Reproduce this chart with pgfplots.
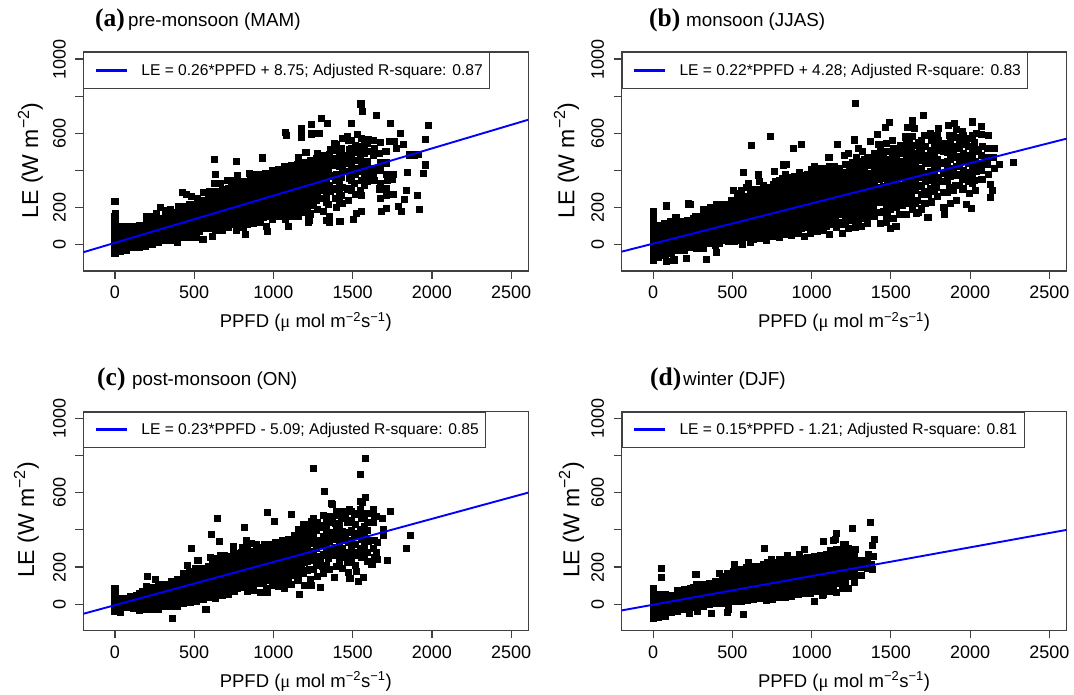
\documentclass[border=0pt]{standalone}
\usepackage{fontspec}
\setmainfont{Liberation Sans}
\newfontfamily\tnr{Liberation Serif}
\usepackage{pgfplots}
\pgfplotsset{compat=1.18}
\definecolor{axc}{HTML}{404040}
\pgfplotsset{
  panel/.style={
    scale only axis, width=445pt, height=219pt,
    clip mode=individual,
    xmin=-200, xmax=2608, ymin=-142, ymax=1038,
    xtick={0,500,1000,1500,2000,2500},
    ytick={0,200,400,600,800,1000},
    yticklabels={0,200,,600,,1000},
    tick align=outside, major tick length=8pt,
    xtick pos=bottom, ytick pos=left,
    axis line style={axc,line width=1.1pt},
    every tick/.style={axc,line width=1.1pt},
    /pgf/number format/assume math mode=true,
    /pgf/number format/1000 sep={},
    tick label style={font=\fontsize{18}{18}\selectfont},
    xticklabel style={yshift=-3.5pt},
    yticklabel style={rotate=90,anchor=south,yshift=6pt},
    xlabel={PPFD ({\tnr μ} mol m\textsuperscript{−2}s\textsuperscript{−1})},
    ylabel={LE (W m\textsuperscript{−2})},
    every axis x label/.style={at={(axis description cs:0.5,0)},anchor=center,yshift=-51pt,font=\fontsize{18.5}{18.5}\selectfont},
    legend style={at={(axis description cs:0,1)},anchor=north west,draw=axc,line width=1.1pt,fill=white,
      font=\fontsize{15.6}{15.6}\selectfont,inner xsep=10.5pt,inner ysep=9.5pt,
      /tikz/every even column/.append style={column sep=0pt}},
    legend cell align=left,
    legend image code/.code={\draw[#1,line width=3pt] (0pt,0pt) -- (31pt,0pt);},
  },
  ylab/.style={every axis y label/.style={at={(axis description cs:0,0.505)},anchor=center,rotate=90,yshift=#1pt,font=\fontsize{23}{23}\selectfont}},
  pts/.style={only marks,mark=square*,mark size=3.05pt,black,mark options={line width=0pt},forget plot},
  fit/.style={blue,line width=1.9pt},
}
\begin{document}
\begin{tikzpicture}[x=1pt,y=1pt]
\path[use as bounding box] (0,0) rectangle (1074,695);

\begin{axis}[panel,ylab=53,at={(83.3pt,424pt)},anchor=south west]
\addplot[pts] coordinates {
(0,232)(630,461)(635,379)(628,330)(767,449)(933,467)(1552,758)(1563,716)(1652,695)(1739,653)(1978,641)(1493,653)(1304,682)(1339,652)(1241,648)(1178,623)(1178,580)(1076,603)(1085,589)(1241,596)(1287,598)(1800,600)(1957,567)(1822,540)(1961,429)(1948,381)(1846,391)(1839,293)(1909,264)(1828,241)(1787,205)(1809,178)(1920,189)(1857,483)(1889,483)(1917,488)(1733,555)(1763,558)(1774,519)(1683,178)(1713,197)(1557,180)(1522,169)(1507,136)(1420,124)(1352,118)(1335,129)(1224,133)(1220,118)(1096,99)(965,70)(822,54)(767,79)(811,92)(613,43)
(0,-50)(0,-25)(0,0)(0,25)(0,50)(0,75)(0,100)(0,125)(0,150)(3,165)
(35,-35)(30,-5)(38,25)(32,55)(36,85)(30,100)
(75,-30)(70,0)(78,30)(72,60)(76,95)
(115,-15)(110,15)(118,45)(112,75)(115,100)
(155,-15)(150,15)(158,45)(152,75)(156,105)
(195,-10)(190,25)(198,55)(192,85)(196,120)(200,150)
(235,0)(230,30)(238,60)(232,95)(236,125)(230,150)
(275,10)(270,40)(278,70)(272,105)(276,135)(285,200)(262,165)
(315,20)(310,50)(318,85)(312,115)(316,150)(320,185)
(355,25)(350,60)(358,90)(352,125)(356,155)(350,190)
(395,10)(390,45)(398,75)(392,110)(396,140)(390,175)(398,205)
(435,40)(430,75)(438,105)(432,140)(436,170)(430,205)(425,280)(450,270)
(475,40)(470,80)(478,110)(472,145)(476,180)(470,215)(480,260)
(515,40)(510,75)(518,110)(512,145)(516,180)(510,215)(518,250)
(555,30)(550,85)(558,120)(552,155)(556,190)(550,225)(558,280)(540,240)
(595,85)(590,115)(598,150)(592,185)(596,220)(590,255)(598,285)
(635,75)(630,110)(638,145)(632,180)(636,215)(630,250)(638,285)
(675,75)(670,120)(678,155)(672,190)(676,225)(670,260)(678,295)(665,330)
(715,90)(710,125)(718,160)(712,195)(716,230)(710,265)(718,300)(712,345)
(755,110)(750,140)(758,175)(752,210)(756,245)(750,280)(758,315)(745,345)
(795,110)(790,145)(798,180)(792,215)(796,250)(790,285)(798,320)(775,370)
(835,110)(830,150)(838,190)(832,225)(836,260)(830,295)(838,330)(850,385)
(875,115)(870,155)(878,190)(872,230)(876,265)(870,300)(878,335)(872,370)(895,380)
(915,120)(910,160)(918,200)(912,235)(916,270)(910,305)(918,340)(912,380)
(955,100)(950,165)(958,205)(952,240)(956,275)(950,310)(958,345)(952,385)
(995,135)(990,170)(998,210)(992,245)(996,280)(990,320)(998,355)(992,400)
(1035,150)(1030,185)(1038,225)(1032,260)(1036,295)(1030,330)(1038,365)(1032,405)
(1075,135)(1070,190)(1078,230)(1072,265)(1076,300)(1070,335)(1078,370)(1072,420)
(1115,150)(1110,195)(1118,235)(1112,275)(1116,310)(1110,345)(1118,385)(1112,425)
(1155,150)(1150,205)(1158,245)(1152,285)(1156,320)(1150,360)(1158,395)(1152,430)(1158,470)
(1195,175)(1190,215)(1198,255)(1192,295)(1196,330)(1190,370)(1198,405)(1192,440)(1205,495)
(1235,165)(1230,225)(1238,265)(1232,305)(1236,345)(1230,380)(1238,420)(1232,455)
(1275,190)(1270,240)(1278,275)(1272,315)(1276,350)(1270,390)(1278,425)(1272,465)(1278,490)
(1315,180)(1310,250)(1318,290)(1312,330)(1316,365)(1310,400)(1318,440)(1312,480)
(1355,150)(1350,215)(1358,285)(1352,320)(1356,370)(1350,410)(1358,450)(1352,485)(1358,510)(1385,545)
(1395,200)(1390,250)(1398,300)(1392,345)(1396,380)(1390,425)(1398,465)(1392,510)(1398,540)
(1435,220)(1430,265)(1438,310)(1432,360)(1436,400)(1430,440)(1438,480)(1432,520)(1438,570)
(1475,240)(1470,300)(1478,355)(1472,395)(1476,435)(1470,475)(1478,515)(1472,560)(1465,585)
(1515,270)(1510,330)(1518,380)(1512,410)(1516,455)(1510,495)(1518,535)(1530,595)
(1555,265)(1550,290)(1558,345)(1552,395)(1556,430)(1550,470)(1558,510)(1552,530)(1558,570)
(1595,340)(1590,375)(1598,410)(1592,445)(1596,500)(1590,545)(1598,565)
(1635,345)(1630,375)(1638,410)(1632,480)(1636,520)(1630,560)
(1675,250)(1670,300)(1678,330)(1672,400)(1676,440)(1670,490)(1678,550)
(1715,265)(1710,300)(1718,345)(1712,380)(1716,440)(1710,500)
(1755,270)(1750,350)(1758,380)
(55,-10)(55,25)(55,60)(95,0)(95,35)(95,70)(135,10)(135,45)(135,80)(175,20)(175,55)(175,90)
(215,15)(215,50)(215,85)(215,115)(255,25)(255,60)(255,95)(255,125)(295,35)(295,70)(295,105)(295,140)
(335,40)(335,75)(335,110)(335,145)(375,45)(375,80)(375,115)(375,150)(415,60)(415,95)(415,130)(415,165)
(455,60)(455,95)(455,130)(455,165)(455,200)(495,65)(495,100)(495,135)(495,170)(495,205)
(535,70)(535,105)(535,140)(535,175)(535,210)(575,100)(575,135)(575,170)(575,205)(575,240)
(615,100)(615,130)(615,165)(615,200)(615,235)(615,265)(655,100)(655,135)(655,170)(655,205)(655,240)(655,275)
(695,105)(695,140)(695,175)(695,210)(695,245)(695,280)(735,110)(735,145)(735,180)(735,215)(735,250)(735,285)(735,320)
(775,125)(775,160)(775,195)(775,230)(775,265)(775,300)(775,335)(815,130)(815,165)(815,200)(815,235)(815,270)(815,305)(815,340)
(855,135)(855,170)(855,205)(855,240)(855,275)(855,310)(855,350)(895,140)(895,175)(895,210)(895,250)(895,285)(895,320)(895,360)
(935,145)(935,185)(935,220)(935,255)(935,290)(935,325)(935,360)(975,150)(975,190)(975,225)(975,260)(975,300)(975,335)(975,370)
(1015,155)(1015,195)(1015,230)(1015,265)(1015,305)(1015,340)(1015,380)(1055,170)(1055,210)(1055,245)(1055,280)(1055,315)(1055,350)(1055,390)
(1095,170)(1095,215)(1095,250)(1095,290)(1095,325)(1095,360)(1095,400)(1135,180)(1135,220)(1135,260)(1135,295)(1135,330)(1135,370)(1135,410)
(1175,190)(1175,230)(1175,270)(1175,310)(1175,345)(1175,385)(1175,420)(1215,195)(1215,245)(1215,285)(1215,325)(1215,360)(1215,400)(1215,440)
(1255,210)(1255,255)(1255,290)(1255,330)(1255,370)(1255,410)(1255,445)
(1335,230)(1335,270)(1335,310)(1335,350)(1335,385)(1335,430)(1335,470)
(1415,240)(1415,285)(1415,335)(1415,375)(1415,420)(1415,460)(1415,500)
(1495,290)(1495,345)(1495,385)(1495,425)(1495,475)(1495,520)(1495,560)
(1575,320)(1575,370)(1575,410)(1575,450)(1575,490)(1575,535)
};
\addplot[fit] coordinates {(-200,-41)(2608,673)};
\addlegendentry{\hspace{11pt}LE = 0.26*PPFD + 8.75; Adjusted R-square: 0.87\kern-5.7pt}
\end{axis}

\begin{axis}[panel,ylab=55,at={(621.5pt,424pt)},anchor=south west]
\addplot[pts] coordinates {
(1277,761)(1704,698)(1635,666)(1650,625)(1491,657)(1468,632)(1607,632)(1800,628)(1863,643)(1903,652)(2015,661)(2069,636)(1418,592)(742,582)(620,533)(936,540)(888,517)(1163,540)(1270,564)(1109,470)(2272,442)(2187,433)(2155,517)(2127,325)(2142,293)(2131,253)(2011,196)(1976,214)(1839,160)(1734,147)(1695,192)(1659,169)(1532,97)(1498,88)(1474,120)(86,208)(221,219)(234,215)(144,147)(86,-92)(131,-83)(212,-74)(335,-79)(399,-43)(562,0)(612,11)(567,388)(663,375)(766,395)(601,330)(820,429)(841,434)
(0,-85)(0,-55)(0,-25)(0,5)(0,35)(0,65)(0,95)(0,125)(0,155)(0,180)
(35,-70)(30,-35)(38,0)(32,35)(36,70)(30,105)
(75,-60)(70,-25)(78,10)(72,45)(76,80)(70,115)
(115,-50)(110,-15)(118,20)(112,55)(116,90)(112,125)
(155,-30)(150,0)(158,35)(152,70)(156,105)
(195,-30)(190,5)(198,40)(192,75)(196,110)
(235,-15)(230,15)(238,50)(232,85)(236,120)
(275,-20)(270,20)(278,55)(272,90)(276,125)(265,150)
(315,-20)(310,30)(318,65)(312,100)(316,135)(320,190)(345,180)
(355,5)(350,35)(358,70)(352,105)(356,140)(350,175)(360,200)
(395,-5)(390,40)(398,75)(392,110)(396,145)(390,180)(400,215)
(435,20)(430,55)(438,90)(432,125)(436,160)(430,195)(445,210)
(475,15)(470,60)(478,95)(472,130)(476,165)(470,200)
(515,15)(510,45)(518,85)(512,120)(516,155)(510,190)(518,225)(505,290)(530,275)
(555,25)(550,60)(558,95)(552,130)(556,165)(550,200)(558,235)(560,290)
(595,40)(590,75)(598,110)(592,145)(596,180)(590,215)(598,250)(590,310)
(635,30)(630,65)(638,100)(632,135)(636,170)(630,205)(638,240)(632,275)
(675,35)(670,70)(678,105)(672,140)(676,175)(670,210)(678,245)(672,280)(670,340)
(715,25)(710,60)(718,95)(712,130)(716,165)(710,200)(718,235)(712,270)(718,305)
(755,45)(750,80)(758,115)(752,150)(756,185)(750,220)(758,255)(752,290)(758,325)
(795,40)(790,80)(798,120)(792,155)(796,190)(790,225)(798,260)(792,295)(798,345)
(835,55)(830,90)(838,125)(832,160)(836,195)(830,230)(838,265)(832,300)(838,335)(832,380)
(875,50)(870,95)(878,130)(872,165)(876,200)(870,235)(878,270)(872,305)(878,340)
(915,60)(910,100)(918,135)(912,170)(916,205)(910,240)(918,275)(912,310)(918,345)(925,390)
(955,45)(950,105)(958,140)(952,175)(956,210)(950,245)(958,280)(952,315)(958,350)
(995,60)(990,110)(998,145)(992,180)(996,215)(990,250)(998,285)(992,320)(998,355)(1000,405)
(1035,70)(1030,115)(1038,150)(1032,185)(1036,220)(1030,255)(1038,290)(1032,325)(1038,370)(1020,420)
(1075,75)(1070,120)(1078,155)(1072,190)(1076,225)(1070,260)(1078,295)(1072,330)(1078,375)(1065,410)
(1115,55)(1110,125)(1118,165)(1112,200)(1116,235)(1110,270)(1118,305)(1112,340)(1118,385)(1110,420)
(1155,90)(1150,130)(1158,170)(1152,205)(1156,240)(1150,275)(1158,310)(1152,345)(1158,380)(1145,420)
(1195,60)(1190,110)(1198,175)(1192,210)(1196,245)(1190,280)(1198,315)(1192,350)(1198,390)(1205,480)
(1235,85)(1230,145)(1238,180)(1232,220)(1236,255)(1230,290)(1238,325)(1232,360)(1238,410)(1230,490)
(1275,95)(1270,150)(1278,190)(1272,225)(1276,260)(1270,295)(1278,330)(1272,365)(1278,410)(1285,470)(1295,520)
(1315,100)(1310,155)(1318,195)(1312,235)(1316,270)(1310,305)(1318,340)(1312,380)(1318,425)(1320,500)
(1355,115)(1350,160)(1358,200)(1352,245)(1356,280)(1350,315)(1358,350)(1352,385)(1358,430)(1350,470)(1372,555)
(1395,150)(1390,205)(1398,250)(1392,290)(1396,325)(1390,365)(1398,405)(1392,445)(1398,490)
(1435,115)(1430,175)(1438,230)(1432,270)(1436,310)(1430,350)(1438,390)(1432,430)(1438,475)(1432,515)(1425,540)
(1475,150)(1470,205)(1478,250)(1472,295)(1476,335)(1470,375)(1478,415)(1472,460)(1478,500)(1472,545)
(1515,140)(1510,220)(1518,265)(1512,310)(1516,350)(1510,395)(1518,435)(1512,475)(1518,520)(1510,560)
(1555,160)(1550,230)(1558,275)(1552,320)(1556,360)(1550,405)(1558,450)(1552,490)(1558,535)
(1595,160)(1590,250)(1598,290)(1592,335)(1596,375)(1590,420)(1598,470)(1592,510)(1598,560)(1590,580)
(1635,190)(1630,260)(1638,300)(1632,345)(1636,395)(1630,440)(1638,490)(1632,530)(1638,585)
(1675,175)(1670,240)(1678,315)(1672,360)(1676,405)(1670,465)(1678,520)(1672,550)
(1715,220)(1710,285)(1718,340)(1712,385)(1716,435)(1710,480)(1718,530)(1712,590)
(1755,230)(1750,300)(1758,345)(1752,395)(1756,440)(1750,505)(1758,560)(1752,600)
(1795,260)(1790,310)(1798,360)(1792,410)(1796,460)(1790,510)(1798,560)(1792,590)
(1835,200)(1830,280)(1838,340)(1832,385)(1836,440)(1830,500)(1838,545)
(1875,220)(1870,310)(1878,365)(1872,410)(1876,460)(1870,510)(1878,550)(1872,590)
(1915,240)(1910,320)(1918,375)(1912,420)(1916,470)(1910,530)(1918,575)(1912,620)
(1955,300)(1950,350)(1958,400)(1952,450)(1956,490)(1950,540)(1958,590)(1952,610)
(1995,275)(1990,340)(1998,390)(1992,435)(1996,480)(1990,530)(1998,570)
(2035,290)(2030,345)(2038,395)(2032,450)(2036,500)(2030,550)(2038,600)
(2075,350)(2070,400)(2078,435)(2072,480)(2076,530)(2070,595)
(2115,380)(2110,430)(2118,470)(2112,520)(2116,590)
(2155,410)(2150,470)
(55,-45)(55,-10)(55,25)(55,60)(55,95)(95,-40)(95,0)(95,35)(95,70)(95,105)(135,-30)(135,5)(135,40)(135,75)(135,110)
(175,-15)(175,20)(175,55)(175,90)(175,125)(215,-10)(215,25)(215,60)(215,95)(215,130)(255,0)(255,35)(255,70)(255,105)(255,140)
(295,5)(295,45)(295,80)(295,115)(295,150)(335,10)(335,50)(335,85)(335,120)(335,155)(335,190)(375,20)(375,55)(375,90)(375,125)(375,160)(375,195)
(415,5)(415,40)(415,75)(415,110)(415,145)(415,180)(415,215)(455,35)(455,75)(455,110)(455,145)(455,180)(455,215)
(495,30)(495,65)(495,100)(495,135)(495,170)(495,205)(495,240)(535,40)(535,75)(535,110)(535,145)(535,180)(535,215)(535,250)
(575,50)(575,85)(575,120)(575,155)(575,190)(575,225)(575,260)(615,50)(615,85)(615,120)(615,155)(615,190)(615,225)(615,260)(615,295)
(655,50)(655,85)(655,120)(655,155)(655,190)(655,225)(655,260)(655,295)(695,45)(695,80)(695,115)(695,150)(695,185)(695,220)(695,255)(695,290)(695,320)
(735,60)(735,95)(735,130)(735,165)(735,200)(735,235)(735,270)(735,305)(775,60)(775,95)(775,130)(775,165)(775,200)(775,235)(775,270)(775,305)(775,340)
(815,70)(815,105)(815,140)(815,175)(815,210)(815,245)(815,280)(815,315)(815,355)(855,75)(855,110)(855,145)(855,180)(855,215)(855,250)(855,285)(855,320)(855,360)
(895,80)(895,115)(895,150)(895,185)(895,220)(895,255)(895,290)(895,325)(895,365)(935,85)(935,120)(935,155)(935,190)(935,225)(935,260)(935,295)(935,330)(935,370)
(975,90)(975,125)(975,165)(975,200)(975,235)(975,270)(975,305)(975,340)(975,380)(1015,95)(1015,130)(1015,170)(1015,205)(1015,240)(1015,275)(1015,310)(1015,345)(1015,390)
(1055,100)(1055,140)(1055,175)(1055,210)(1055,245)(1055,280)(1055,315)(1055,350)(1055,395)(1095,100)(1095,145)(1095,180)(1095,215)(1095,250)(1095,285)(1095,320)(1095,360)(1095,400)
(1135,110)(1135,150)(1135,190)(1135,225)(1135,260)(1135,295)(1135,330)(1135,365)(1135,405)(1175,120)(1175,160)(1175,195)(1175,230)(1175,265)(1175,300)(1175,335)(1175,370)(1175,410)
(1215,125)(1215,165)(1215,200)(1215,240)(1215,275)(1215,310)(1215,345)(1215,380)(1215,430)(1255,130)(1255,170)(1255,210)(1255,250)(1255,285)(1255,320)(1255,355)(1255,390)(1255,440)
(1295,135)(1295,175)(1295,215)(1295,255)(1295,295)(1295,330)(1295,365)(1295,400)(1295,450)(1335,140)(1335,180)(1335,220)(1335,260)(1335,300)(1335,340)(1335,375)(1335,410)(1335,460)
(1375,150)(1375,190)(1375,230)(1375,270)(1375,310)(1375,350)(1375,385)(1375,425)(1375,470)(1415,175)(1415,225)(1415,270)(1415,310)(1415,350)(1415,385)(1415,425)(1415,470)
(1455,180)(1455,230)(1455,275)(1455,315)(1455,355)(1455,395)(1455,440)(1455,480)(1495,190)(1495,240)(1495,285)(1495,330)(1495,370)(1495,410)(1495,455)(1495,500)
(1535,200)(1535,250)(1535,300)(1535,340)(1535,385)(1535,430)(1535,470)(1535,510)(1575,210)(1575,270)(1575,315)(1575,360)(1575,395)(1575,445)(1575,490)(1575,530)
(1615,220)(1615,280)(1615,325)(1615,370)(1615,415)(1615,460)(1615,510)(1615,550)(1655,220)(1655,290)(1655,340)(1655,385)(1655,430)(1655,480)(1655,535)
(1695,270)(1695,320)(1695,365)(1695,410)(1695,455)(1695,500)(1695,560)(1735,270)(1735,370)(1735,470)
(1775,285)(1775,330)(1775,385)(1775,430)(1775,480)(1775,535)(1815,340)(1815,435)(1815,530)
(1855,280)(1855,345)(1855,400)(1855,450)(1855,495)(1855,540)(1895,290)(1895,395)(1895,490)(1895,590)
(1935,320)(1935,375)(1935,430)(1935,475)(1935,520)(1935,565)(1975,370)(1975,465)(1975,560)
(2015,330)(2015,375)(2015,425)(2015,470)(2015,520)(2015,590)(2055,420)(2055,515)
};
\addplot[fit] coordinates {(-200,-38)(2608,571)};
\addlegendentry{\hspace{11pt}LE = 0.22*PPFD + 4.28; Adjusted R-square: 0.83\kern-6.3pt}
\end{axis}

\begin{axis}[panel,ylab=57,at={(83.3pt,64.5pt)},anchor=south west]
\addplot[pts] coordinates {
(1583,785)(1250,733)(1550,697)(1322,605)(1578,576)(1548,555)(1563,549)(1367,542)(1372,537)(961,496)(648,460)(1004,445)(1113,481)(1737,501)(1687,463)(1863,372)(1839,298)(1717,233)(1693,370)(1696,402)(1622,214)(1570,145)(1535,124)(1483,136)(1522,176)(1387,145)(1296,92)(1239,100)(1163,52)(1070,83)(961,61)(917,61)(363,-75)(574,-27)(35,-47)(483,302)(611,377)(661,338)(524,235)(459,210)(815,411)(750,311)(804,303)(693,262)(204,149)(254,133)
(0,-40)(0,-15)(0,10)(0,35)(0,60)(0,85)
(35,-25)(30,5)(38,30)
(75,-20)(70,5)(78,30)
(115,-25)(110,5)(118,35)
(155,-35)(150,-5)(158,25)(152,55)
(195,-30)(190,0)(198,30)(192,60)(196,95)
(235,-30)(230,0)(238,30)(232,60)(236,90)
(275,-30)(270,5)(278,35)(272,70)(276,105)
(315,-15)(310,15)(318,45)(312,75)(316,105)
(355,-10)(350,25)(358,55)(352,85)(356,120)
(395,-10)(390,30)(398,60)(392,95)(396,130)
(435,5)(430,35)(438,70)(432,100)(436,135)(430,165)
(475,10)(470,45)(478,80)(472,115)(476,150)(470,175)
(515,15)(510,50)(518,85)(512,120)(516,155)(510,190)
(555,25)(550,55)(558,90)(552,125)(556,160)(550,190)
(595,35)(590,65)(598,100)(592,135)(596,170)(590,205)(605,250)
(635,30)(630,70)(638,105)(632,140)(636,175)(630,210)(638,245)
(675,45)(670,80)(678,115)(672,150)(676,185)(670,225)(665,260)
(715,50)(710,85)(718,125)(712,160)(716,195)(710,230)
(755,70)(750,100)(758,135)(752,170)(756,205)(750,240)(745,275)
(795,90)(790,115)(798,150)(792,185)(796,220)(790,255)(798,280)
(835,70)(830,110)(838,150)(832,190)(836,225)(830,260)(838,300)(830,340)
(875,75)(870,120)(878,160)(872,195)(876,235)(870,275)(860,325)
(915,110)(910,150)(918,190)(912,225)(916,260)(910,295)
(955,85)(950,135)(958,175)(952,215)(956,255)(950,300)(945,320)
(995,100)(990,145)(998,190)(992,230)(996,270)(990,310)
(1035,95)(1030,150)(1038,195)(1032,240)(1036,280)(1030,325)
(1075,110)(1070,165)(1078,205)(1072,245)(1076,285)(1070,335)
(1115,105)(1110,170)(1118,215)(1112,255)(1116,295)(1110,340)
(1155,130)(1150,175)(1158,220)(1152,270)(1156,315)(1150,345)(1160,400)
(1195,100)(1190,165)(1198,225)(1192,270)(1196,320)(1190,365)(1198,410)(1190,430)
(1235,130)(1230,185)(1238,240)(1232,285)(1236,330)(1230,375)(1238,445)
(1275,150)(1270,210)(1278,255)(1272,300)(1276,345)(1270,395)(1278,440)
(1315,165)(1310,205)(1318,265)(1312,320)(1316,365)(1310,415)(1318,480)
(1355,185)(1350,245)(1358,290)(1352,340)(1356,385)(1350,440)(1358,470)
(1395,205)(1390,260)(1398,305)(1392,350)(1396,395)(1390,435)(1398,500)
(1435,190)(1430,250)(1438,300)(1432,345)(1436,390)(1430,460)(1438,500)
(1475,170)(1470,225)(1478,280)(1472,330)(1476,385)(1470,440)(1478,510)
(1515,210)(1510,260)(1518,320)(1512,365)(1516,430)(1510,485)
(1555,250)(1550,300)(1558,350)(1552,400)(1556,460)(1550,510)
(1595,230)(1590,280)(1598,340)(1592,395)(1596,440)(1590,490)
(1635,250)(1630,300)(1638,345)(1632,440)(1636,470)(1630,510)
(1655,240)(1650,280)(1658,330)(1652,470)
(55,-10)(55,15)(95,-10)(95,15)(95,40)(135,-15)(135,15)(135,45)(175,-20)(175,10)(175,40)(175,70)
(215,-15)(215,15)(215,45)(215,75)(255,-15)(255,20)(255,50)(255,85)(295,-5)(295,25)(295,55)(295,90)
(335,0)(335,30)(335,65)(335,100)(375,10)(375,40)(375,75)(375,110)(415,15)(415,50)(415,85)(415,120)
(455,25)(455,60)(455,95)(455,130)(455,160)(495,30)(495,65)(495,100)(495,135)(495,170)
(535,40)(535,75)(535,110)(535,145)(535,180)(575,50)(575,85)(575,120)(575,155)(575,190)
(615,55)(615,90)(615,125)(615,160)(615,195)(615,225)(655,60)(655,95)(655,130)(655,165)(655,200)(655,235)
(695,65)(695,100)(695,135)(695,170)(695,205)(695,240)(735,75)(735,115)(735,150)(735,185)(735,220)(735,255)
(775,85)(775,130)(775,165)(775,200)(775,235)(775,270)(815,100)(815,135)(815,170)(815,205)(815,240)(815,275)
(855,95)(855,140)(855,180)(855,215)(855,250)(855,285)(895,110)(895,145)(895,180)(895,220)(895,255)(895,290)(895,320)
(935,115)(935,155)(935,195)(935,235)(935,270)(935,305)(975,125)(975,165)(975,205)(975,245)(975,285)(975,320)
(1015,130)(1015,175)(1015,215)(1015,255)(1015,295)(1015,330)(1055,135)(1055,185)(1055,225)(1055,265)(1055,305)(1055,345)
(1095,140)(1095,190)(1095,235)(1095,275)(1095,315)(1095,350)(1135,155)(1135,195)(1135,240)(1135,285)(1135,330)(1135,370)
(1175,170)(1175,210)(1175,250)(1175,290)(1175,335)(1175,375)(1215,180)(1215,230)(1215,270)(1215,310)(1215,350)(1215,395)(1215,430)
(1255,185)(1255,235)(1255,280)(1255,325)(1255,370)(1255,415)(1255,460)(1295,240)(1295,330)(1295,425)
(1335,210)(1335,260)(1335,305)(1335,350)(1335,400)(1335,450)(1375,280)(1375,370)(1375,465)
(1415,225)(1415,275)(1415,325)(1415,370)(1415,425)(1415,480)(1455,260)(1455,360)(1455,470)
(1495,240)(1495,300)(1495,345)(1495,395)(1495,450)(1495,500)(1535,280)(1535,380)(1535,490)
(1575,270)(1575,310)(1575,370)(1575,420)(1575,470)
};
\addplot[fit] coordinates {(-200,-52)(2608,601)};
\addlegendentry{\hspace{11pt}LE = 0.23*PPFD - 5.09; Adjusted R-square: 0.85\kern-6pt}
\end{axis}

\begin{axis}[panel,ylab=50,at={(621.5pt,64.5pt)},anchor=south west]
\addplot[pts] coordinates {
(54,190)(54,142)(270,158)(1369,440)(1258,409)(1397,348)(1382,316)(1159,379)(1152,348)(1135,343)(1075,339)(702,298)(957,294)(567,-56)(468,-47)(474,-29)(367,-48)(277,-39)(227,-52)(1019,14)(1067,47)(1313,154)(1273,118)(603,226)(511,212)(421,163)
(0,-75)(0,-50)(0,-25)(0,0)(0,25)(0,50)(0,70)(0,85)
(35,-70)(30,-40)(38,-10)(32,20)(36,50)
(75,-65)(70,-35)(78,-5)(72,25)(76,50)
(115,-45)(110,-15)(118,15)(112,45)
(155,-40)(150,-10)(158,20)(152,50)(156,75)
(195,-30)(190,0)(198,30)(192,60)(196,80)
(235,-20)(230,10)(238,40)(232,70)(236,85)
(275,-15)(270,15)(278,45)(272,75)(276,105)
(315,-15)(310,20)(318,50)(312,80)(316,105)
(355,0)(350,25)(358,55)(352,85)(356,110)
(395,5)(390,30)(398,60)(392,90)(396,120)
(435,5)(430,35)(438,65)(432,95)(436,130)
(475,5)(470,40)(478,70)(472,100)(476,135)(470,165)
(515,15)(510,45)(518,75)(512,110)(516,140)(510,175)
(555,15)(550,50)(558,85)(552,115)(556,150)(550,185)
(595,20)(590,55)(598,90)(592,125)(596,160)(590,195)
(635,25)(630,60)(638,95)(632,130)(636,165)(630,200)
(675,30)(670,65)(678,100)(672,135)(676,170)(670,205)
(715,20)(710,55)(718,90)(712,125)(716,160)(710,195)(722,225)
(755,25)(750,60)(758,95)(752,130)(756,165)(750,200)(745,240)
(795,35)(790,70)(798,105)(792,140)(796,175)(790,210)(800,240)
(835,35)(830,75)(838,110)(832,145)(836,180)(830,215)(850,260)
(875,40)(870,80)(878,115)(872,150)(876,185)(870,225)
(915,50)(910,85)(918,120)(912,155)(916,190)(910,230)(925,265)
(955,55)(950,90)(958,125)(952,160)(956,195)(950,235)
(995,60)(990,95)(998,130)(992,165)(996,200)(990,235)
(1035,70)(1030,100)(1038,135)(1032,170)(1036,205)(1030,240)
(1075,50)(1070,105)(1078,140)(1072,175)(1076,210)(1070,250)
(1115,70)(1110,115)(1118,150)(1112,185)(1116,220)(1110,260)(1118,290)
(1155,65)(1150,120)(1158,155)(1152,190)(1156,225)(1150,265)(1158,295)
(1195,85)(1190,130)(1198,170)(1192,205)(1196,240)(1190,275)(1198,320)
(1235,85)(1230,150)(1238,190)(1232,225)(1236,260)(1230,300)
(1275,155)(1270,195)(1278,230)(1272,265)(1276,295)
(1355,195)(1350,225)(1358,265)
(1385,185)(1380,215)(1388,255)
(55,-40)(55,-10)(55,20)(95,-30)(95,0)(95,30)(135,-20)(135,10)(135,40)(175,-20)(175,15)(175,45)(215,-15)(215,20)(215,50)
(255,-5)(255,30)(255,60)(255,90)(295,0)(295,30)(295,60)(295,90)(335,5)(335,35)(335,70)(375,10)(375,40)(375,70)(375,100)
(415,15)(415,45)(415,75)(415,105)(455,20)(455,55)(455,85)(455,120)(455,150)(495,30)(495,60)(495,95)(495,125)(495,160)
(535,35)(535,70)(535,100)(535,135)(535,170)(575,35)(575,70)(575,105)(575,140)(575,175)(615,40)(615,75)(615,110)(615,145)(615,180)
(655,45)(655,80)(655,115)(655,150)(655,185)(695,40)(695,75)(695,110)(695,145)(695,180)(695,215)(735,40)(735,75)(735,110)(735,145)(735,180)(735,215)
(775,50)(775,85)(775,120)(775,155)(775,190)(775,225)(815,55)(815,90)(815,125)(815,160)(815,195)(815,230)
(855,60)(855,95)(855,130)(855,165)(855,200)(855,235)(895,65)(895,100)(895,135)(895,170)(895,205)(895,240)
(935,70)(935,105)(935,140)(935,175)(935,210)(935,245)(975,75)(975,110)(975,145)(975,180)(975,215)(975,250)
(1015,80)(1015,115)(1015,150)(1015,185)(1015,220)(1015,255)(1055,85)(1055,120)(1055,155)(1055,190)(1055,225)(1055,260)
(1095,90)(1095,125)(1095,160)(1095,195)(1095,230)(1095,265)(1135,95)(1135,130)(1135,165)(1135,200)(1135,235)(1135,270)
(1175,110)(1175,145)(1175,180)(1175,215)(1175,250)(1175,285)(1215,120)(1215,155)(1215,190)(1215,225)(1215,260)(1215,295)(1215,320)
(1255,170)(1255,215)(1255,250)(1255,285)(1315,200)(1315,235)
};
\addplot[fit] coordinates {(-200,-34)(2608,400)};
\addlegendentry{\hspace{11pt}LE = 0.15*PPFD - 1.21; Adjusted R-square: 0.81\kern-5pt}
\end{axis}

\def\tfont{\fontsize{18.8}{18.8}\selectfont}
\def\lfont{\tnr\bfseries\fontsize{25.5}{25.5}\selectfont}
\node[anchor=base west,inner sep=0pt] at (95,668) {\lfont (a)};
\node[anchor=base west,inner sep=0pt] at (128,668) {\tfont pre-monsoon (MAM)};
\node[anchor=base west,inner sep=0pt] at (649,668) {\lfont (b)};
\node[anchor=base west,inner sep=0pt] at (686,668) {\tfont monsoon (JJAS)};
\node[anchor=base west,inner sep=0pt] at (97,309) {\lfont (c)};
\node[anchor=base west,inner sep=0pt] at (132,309) {\tfont post-monsoon (ON)};
\node[anchor=base west,inner sep=0pt] at (650,309) {\lfont (d)};
\node[anchor=base west,inner sep=0pt] at (683,309) {\tfont winter (DJF)};
\end{tikzpicture}
\end{document}
